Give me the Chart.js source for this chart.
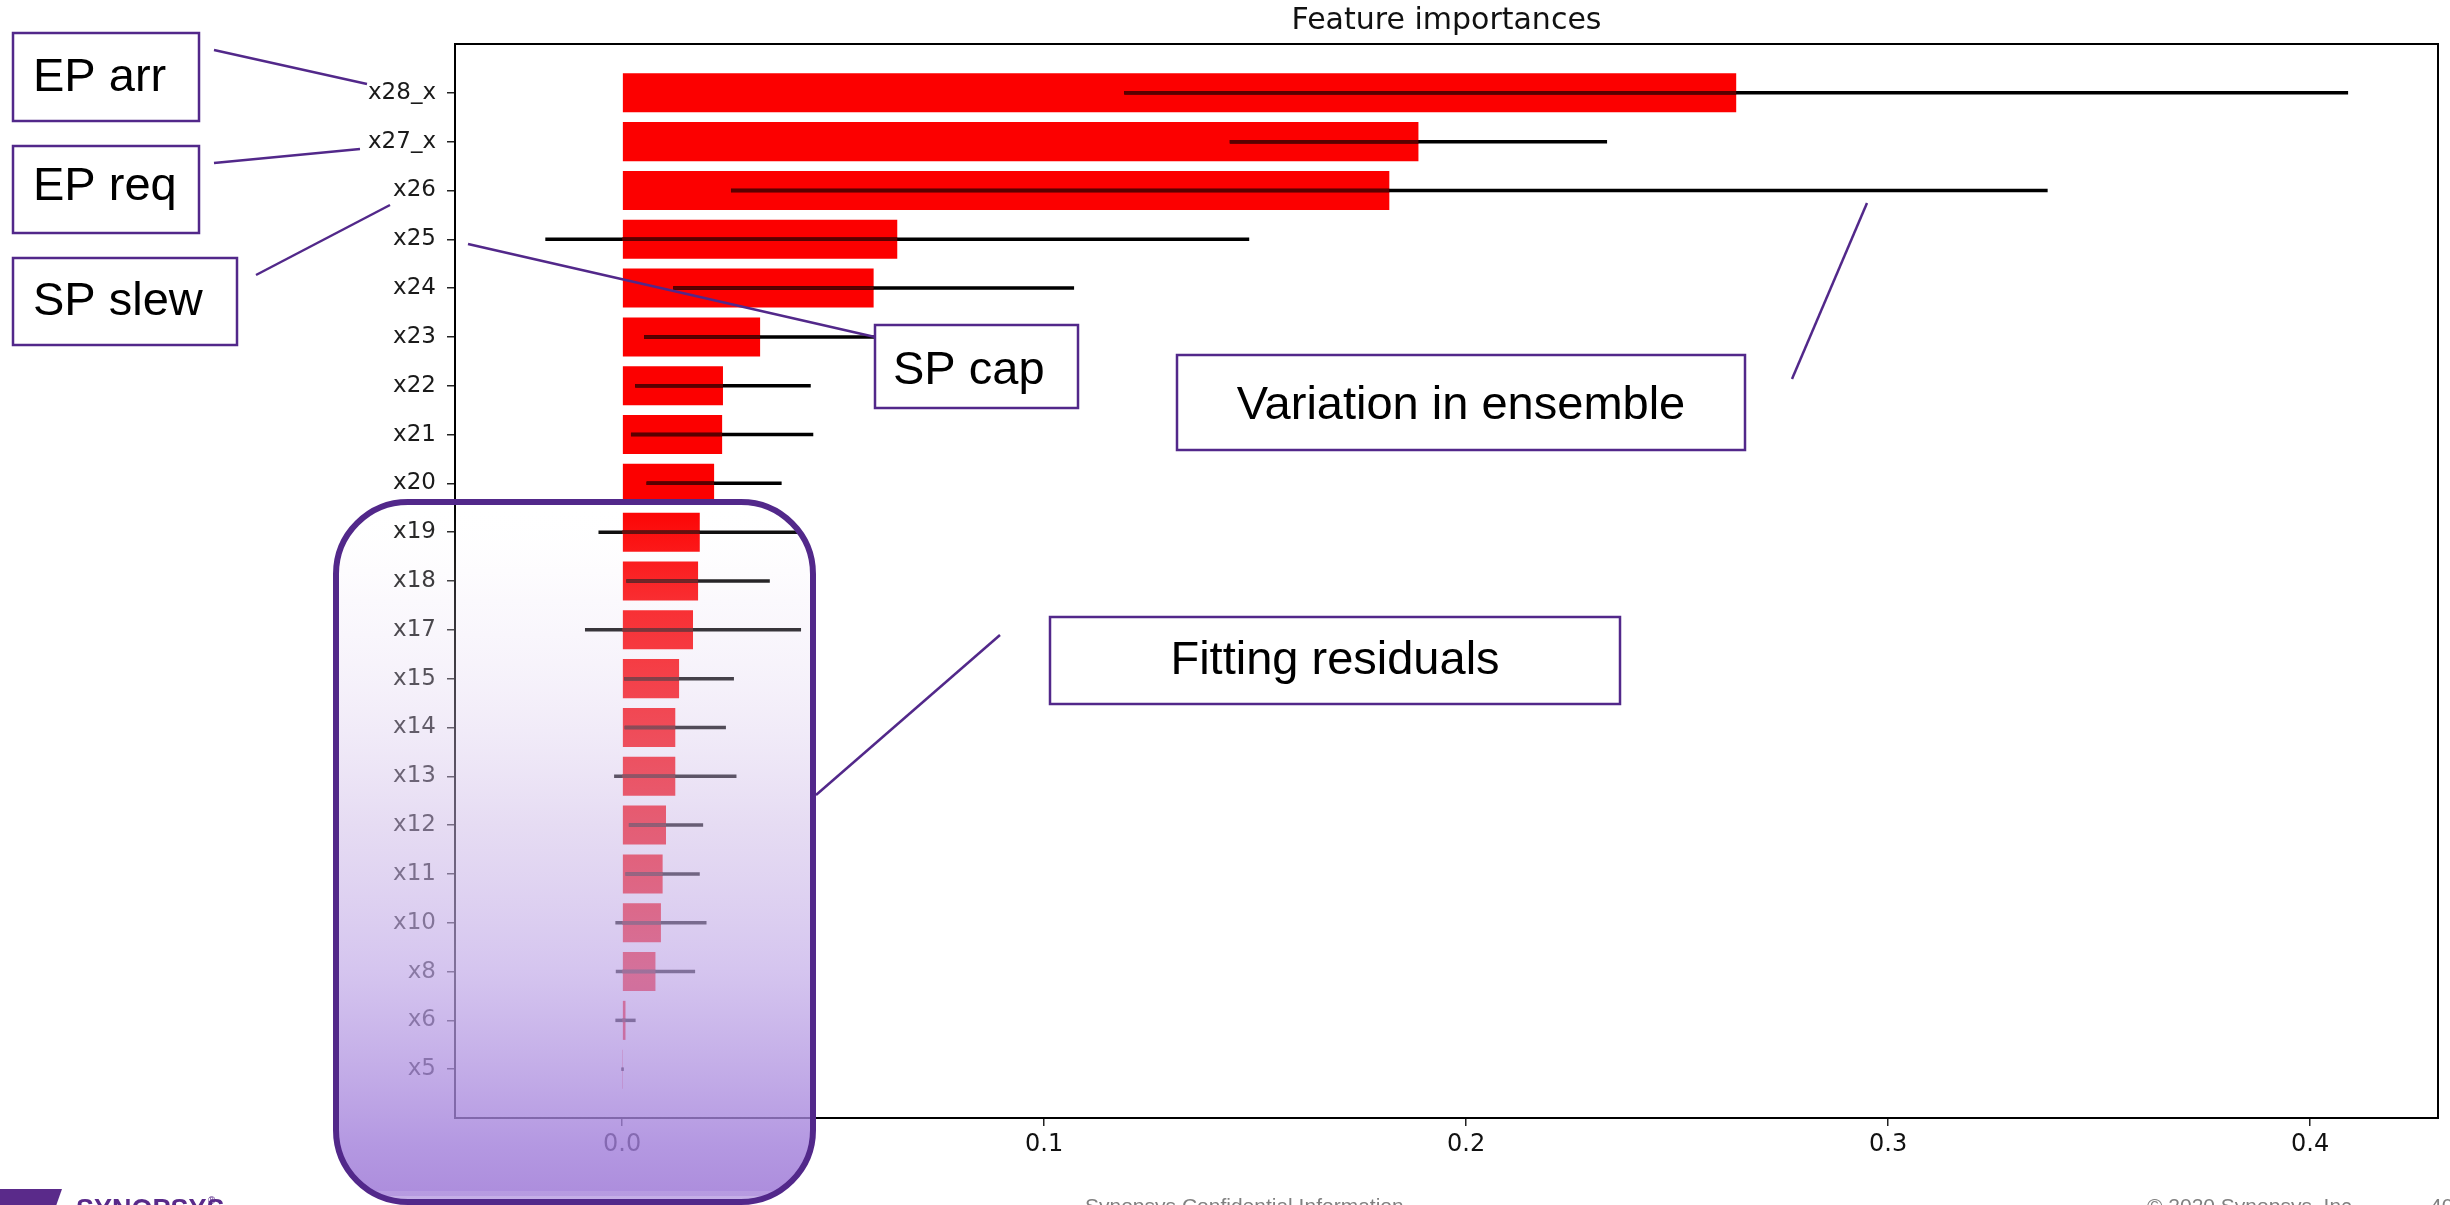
<!DOCTYPE html>
<html>
<head>
<meta charset="utf-8">
<script src="https://cdn.jsdelivr.net/npm/chart.js@4.4.1/dist/chart.umd.min.js"></script>
<style>
  html, body { margin: 0; padding: 0; background: #fff; }
  canvas { display: block; }
</style>
</head>
<body>
<canvas id="chart" width="2450" height="1205"></canvas>
<script>
// feature importances, top of the chart first
var features = ['x28_x', 'x27_x', 'x26', 'x25', 'x24', 'x23', 'x22', 'x21', 'x20', 'x19', 'x18',
                'x17', 'x15', 'x14', 'x13', 'x12', 'x11', 'x10', 'x8', 'x6', 'x5'];
var importances = [0.264, 0.1887, 0.1818, 0.0652, 0.0596, 0.0327, 0.0239, 0.0237, 0.0218, 0.0184, 0.0180,
                   0.0168, 0.0135, 0.0126, 0.0126, 0.0104, 0.0096, 0.0092, 0.0079, 0.0008, 0.0001];
var stds = [0.145, 0.0447, 0.156, 0.0834, 0.0475, 0.0275, 0.0208, 0.0216, 0.016, 0.024, 0.017,
            0.0256, 0.013, 0.012, 0.0145, 0.0088, 0.0088, 0.0108, 0.0094, 0.0024, 0.0003];
var xTicks = [0, 0.1, 0.2, 0.3, 0.4];
var chartTitle = 'Feature importances';

// slide annotations drawn over the chart
var callouts = [
  { text: 'EP arr', box: [13, 33, 186, 88], left: 33, base: 91, line: [214, 50, 367, 84] },
  { text: 'EP req', box: [13, 146, 186, 87], left: 33, base: 200, line: [214, 163, 360, 149] },
  { text: 'SP slew', box: [13, 258, 224, 87], left: 33, base: 315, line: [256, 275, 390, 205] },
  { text: 'SP cap', box: [875, 325, 203, 83], left: 893, base: 384, line: [468, 244, 875, 337] },
  { text: 'Variation in ensemble', box: [1177, 355, 568, 95], base: 419, line: [1867, 203, 1792, 379] },
  { text: 'Fitting residuals', box: [1050, 617, 570, 87], base: 674, line: [1000, 635, 816, 795] }
];
var purple = '#52288a';

function strokeLine(c, x1, y1, x2, y2) {
  c.beginPath();
  c.moveTo(x1, y1);
  c.lineTo(x2, y2);
  c.stroke();
}

var slidePlugin = {
  id: 'slide',
  beforeDraw: function (chart) {
    var c = chart.ctx;
    c.save();
    c.fillStyle = '#fff';
    c.fillRect(0, 0, chart.width, chart.height);
    c.restore();
  },
  afterDatasetsDraw: function (chart) {
    var c = chart.ctx, xs = chart.scales.x, ys = chart.scales.y, a = chart.chartArea;
    c.save();
    c.lineWidth = 3.5;
    c.lineCap = 'butt';
    var x0 = xs.getPixelForValue(0);
    features.forEach(function (f, i) {
      var y = ys.getPixelForValue(i);
      var x1 = xs.getPixelForValue(importances[i] - stds[i]);
      var x2 = xs.getPixelForValue(importances[i] + stds[i]);
      c.strokeStyle = '#000';
      strokeLine(c, x1, y, x2, y);
      var b1 = Math.max(x1, x0), b2 = Math.min(x2, xs.getPixelForValue(importances[i]));
      if (b2 > b1) {
        c.strokeStyle = '#5a0000';
        strokeLine(c, b1, y, b2, y);
      }
    });
    // axes frame
    c.strokeStyle = '#000';
    c.lineWidth = 2;
    c.strokeRect(a.left, a.top, a.right - a.left, a.bottom - a.top);
    c.restore();
  },
  afterDraw: function (chart) {
    var c = chart.ctx, a = chart.chartArea;
    c.save();
    // title
    c.fillStyle = '#111';
    c.font = '30px "DejaVu Sans"';
    c.textAlign = 'center';
    c.textBaseline = 'middle';
    c.fillText(chartTitle, (a.left + a.right) / 2, 21);

    // purple highlight over the small features
    var ox = 336, oy = 502, ow = 477, oh = 700, r = 72;
    var g = c.createLinearGradient(0, oy, 0, oy + oh);
    g.addColorStop(0, 'rgba(255,255,255,0)');
    g.addColorStop(0.14, 'rgba(235,225,245,0.2)');
    g.addColorStop(0.46, 'rgba(205,185,231,0.5)');
    g.addColorStop(0.67, 'rgba(192,168,231,0.67)');
    g.addColorStop(0.92, 'rgba(161,126,218,0.8)');
    g.addColorStop(1, 'rgba(153,114,212,0.82)');
    c.beginPath();
    c.roundRect(ox, oy, ow, oh, r);
    c.fillStyle = g;
    c.fill();
    c.save();
    c.clip();
    c.fillStyle = 'rgba(255,255,255,0.12)';
    c.fillRect(ox, 1191, ow, 5);
    c.fillStyle = 'rgba(255,255,255,0.3)';
    c.fillRect(ox, 1196, ow, 10);
    c.restore();
    c.lineWidth = 6;
    c.strokeStyle = purple;
    c.beginPath();
    c.roundRect(ox, oy, ow, oh, r);
    c.stroke();

    // callouts
    c.lineWidth = 2.5;
    c.strokeStyle = purple;
    callouts.forEach(function (k) {
      strokeLine(c, k.line[0], k.line[1], k.line[2], k.line[3]);
    });
    c.font = '47px "Liberation Sans"';
    c.textBaseline = 'alphabetic';
    callouts.forEach(function (k) {
      var b = k.box;
      c.fillStyle = '#fff';
      c.fillRect(b[0], b[1], b[2], b[3]);
      c.strokeStyle = purple;
      c.lineWidth = 2.5;
      c.strokeRect(b[0], b[1], b[2], b[3]);
      c.fillStyle = '#000';
      if (k.left !== undefined) {
        c.textAlign = 'left';
        c.fillText(k.text, k.left, k.base);
      } else {
        c.textAlign = 'center';
        c.fillText(k.text, b[0] + b[2] / 2, k.base);
      }
    });

    // footer
    c.fillStyle = '#5a2a8a';
    c.beginPath();
    c.moveTo(0, 1189);
    c.lineTo(62, 1189);
    c.lineTo(56, 1206);
    c.lineTo(0, 1206);
    c.closePath();
    c.fill();
    c.textAlign = 'left';
    c.textBaseline = 'top';
    c.font = 'bold 27px "Liberation Sans"';
    c.fillText('SYNOPSYS', 76, 1197);
    c.font = '10px "Liberation Sans"';
    c.fillText('\u00ae', 208, 1196);
    c.fillStyle = '#808080';
    c.font = '21px "Liberation Sans"';
    c.fillText('Synopsys Confidential Information', 1085, 1197);
    c.fillText('\u00a9 2020 Synopsys, Inc.', 2147, 1197);
    c.fillText('40', 2430, 1197);
    c.restore();
  }
};

var ctx = document.getElementById('chart').getContext('2d');
new Chart(ctx, {
  type: 'bar',
  data: {
    datasets: [{
      label: 'importance',
      data: features.map(function (f, i) { return { x: importances[i], y: i }; }),
      backgroundColor: '#fc0000',
      borderWidth: 0,
      barPercentage: 0.8,
      categoryPercentage: 1.0
    }]
  },
  options: {
    indexAxis: 'y',
    responsive: false,
    animation: false,
    events: [],
    devicePixelRatio: 1,
    layout: { padding: { left: 0, right: 12, top: 44, bottom: 0 } },
    plugins: { legend: { display: false }, tooltip: { enabled: false }, title: { display: false } },
    scales: {
      x: {
        type: 'linear',
        min: -0.0396,
        max: 0.4303,
        afterBuildTicks: function (s) { s.ticks = xTicks.map(function (v) { return { value: v }; }); },
        afterFit: function (s) { s.height = 87; },
        border: { display: false },
        grid: { display: true, drawOnChartArea: false, drawTicks: true, tickLength: 8, color: '#222', lineWidth: 1.5 },
        ticks: {
          autoSkip: false,
          maxRotation: 0,
          padding: 4,
          color: '#111',
          font: { family: 'DejaVu Sans', size: 24 },
          callback: function (v) { return v.toFixed(1); }
        }
      },
      y: {
        type: 'linear',
        reverse: true,
        offset: false,
        min: -1,
        max: 21,
        afterBuildTicks: function (s) { s.ticks = features.map(function (f, i) { return { value: i }; }); },
        afterFit: function (s) { s.width = 455; },
        border: { display: false },
        grid: { display: true, offset: false, drawOnChartArea: false, drawTicks: true, tickLength: 8, color: '#222', lineWidth: 1.5 },
        ticks: {
          autoSkip: false,
          padding: 11,
          color: '#1a1a1a',
          font: { family: 'DejaVu Sans', size: 23 },
          callback: function (v) { return features[v]; }
        }
      }
    }
  },
  plugins: [slidePlugin]
});
</script>
</body>
</html>
